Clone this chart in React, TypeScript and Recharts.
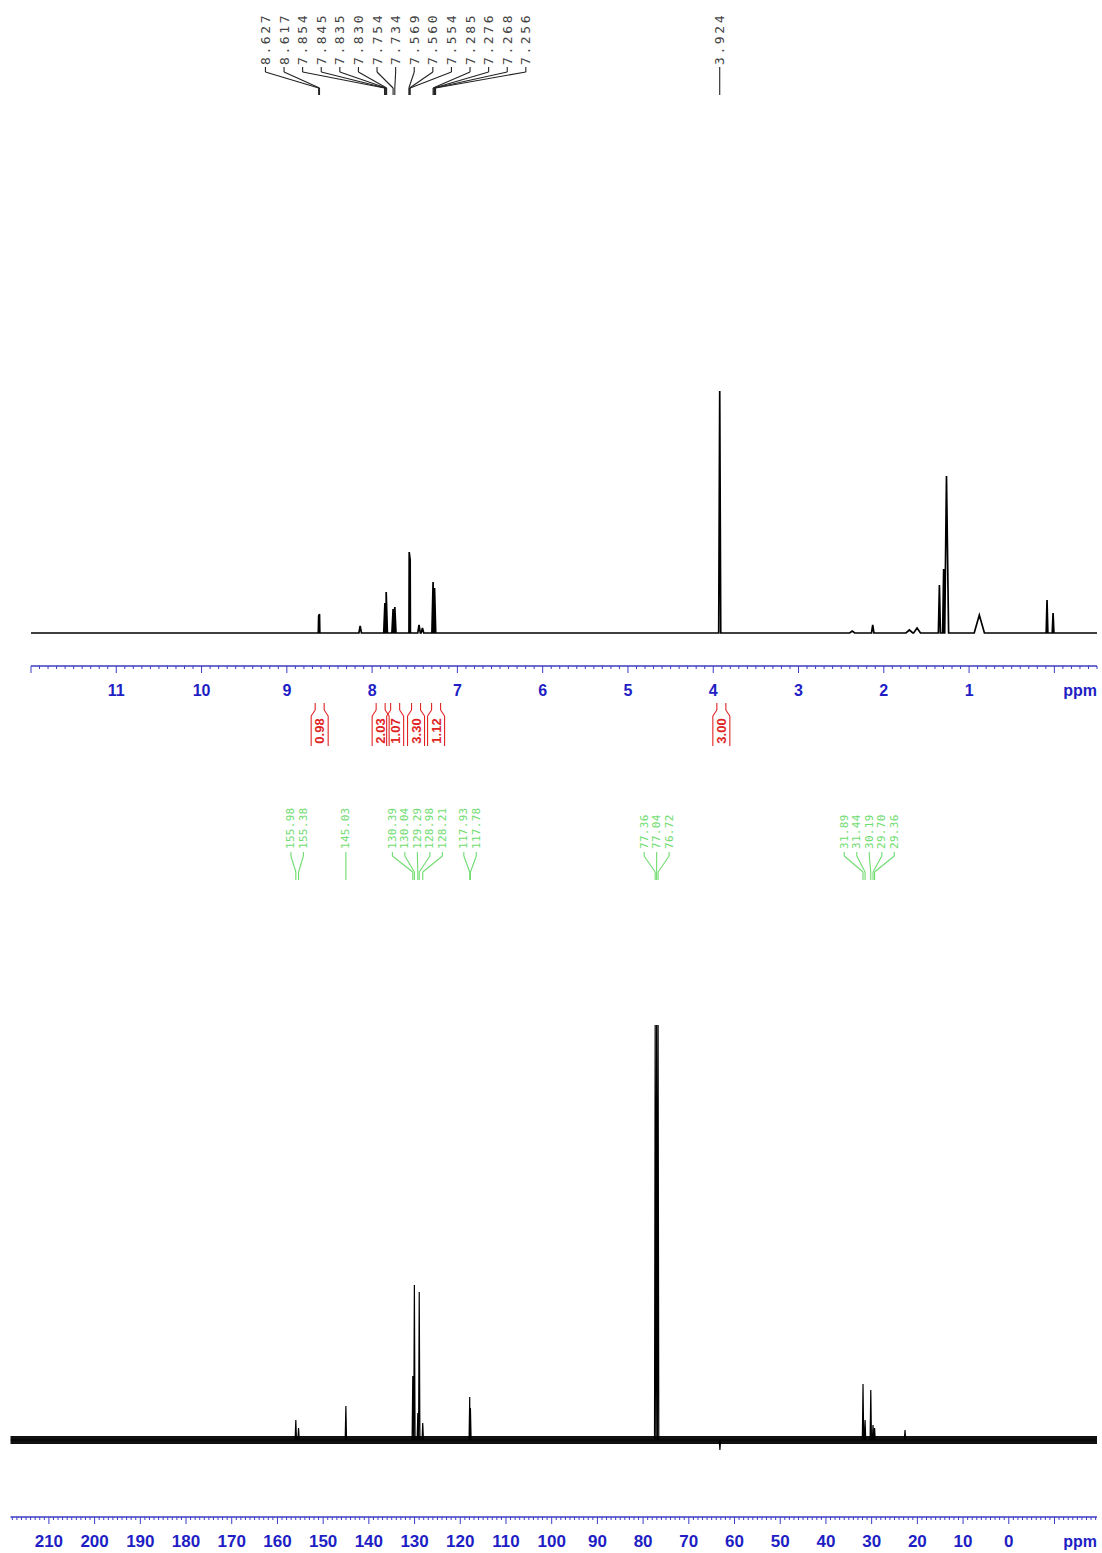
import React from "react";
import { LineChart, Line, XAxis, YAxis, ReferenceLine, ReferenceDot } from "recharts";

// ---------- 1H spectrum ----------
const H_PEAK_PPM = [8.627, 8.617, 8.14, 7.85, 7.835, 7.754, 7.734, 7.565, 7.554, 7.45, 7.41, 7.285, 7.268, 3.924, 2.37, 2.13, 1.7, 1.61, 1.348, 1.298, 1.265, 0.88, 0.086, 0.015];
const H_PEAK_HEIGHT = [17, 19, 7, 30, 41, 24, 26, 81, 73, 8, 5, 51, 45, 242, 2, 8, 3, 5, 48, 64, 157, 18, 33, 20];
const H_PEAK_WIDTH = [0.014, 0.014, 0.015, 0.014, 0.014, 0.014, 0.014, 0.014, 0.014, 0.015, 0.015, 0.014, 0.014, 0.012, 0.03, 0.014, 0.04, 0.04, 0.012, 0.012, 0.025, 0.06, 0.01, 0.01];
const H_LABELS = ["8.627", "8.617", "7.854", "7.845", "7.835", "7.830", "7.754", "7.734", "7.569", "7.560", "7.554", "7.285", "7.276", "7.268", "7.256", "3.924"];
const H_LABEL_GROUPS = [15, 1];
const H_INT_FROM = [8.68, 7.98, 7.8, 7.64, 7.32, 3.96];
const H_INT_TO = [8.55, 7.82, 7.66, 7.33, 7.18, 3.85];
const H_INT_VALUE = ["0.98", "2.03", "1.07", "3.30", "1.12", "3.00"];
const H_TICK_LABELS = [11, 10, 9, 8, 7, 6, 5, 4, 3, 2, 1];

// ---------- 13C spectrum ----------
const C_PEAK_PPM = [155.98, 155.38, 145.03, 130.39, 130.04, 129.29, 128.98, 128.21, 117.93, 117.78, 77.36, 77.04, 76.72, 63.2, 31.89, 31.44, 30.19, 29.7, 29.36, 22.7];
const C_PEAK_HEIGHT = [20, 12, 34, 64, 155, 27, 148, 17, 43, 32, 415, 415, 415, -10, 56, 20, 50, 15, 12, 10];
const C_LABELS = ["155.98", "155.38", "145.03", "130.39", "130.04", "129.29", "128.98", "128.21", "117.93", "117.78", "77.36", "77.04", "76.72", "31.89", "31.44", "30.19", "29.70", "29.36"];
const C_LABEL_GROUPS = [2, 1, 5, 2, 3, 5];
const C_TICK_LABELS = [210, 200, 190, 180, 170, 160, 150, 140, 130, 120, 110, 100, 90, 80, 70, 60, 50, 40, 30, 20, 10, 0];

// layout
const AXIS_BLUE = "#3b3bc4";
const LABEL_BLUE = "#1e1ec4";
const GREEN = "#6fdc6f";
const RED = "#e02424";
const MONO = "'DejaVu Sans Mono', 'Liberation Mono', monospace";
const SANS = "'Liberation Sans', Arial, sans-serif";

const H_X = [-0.5, 12];
const H_LEFT = 31;
const RIGHT_GAP = 5;
const H_PX = (1102 - RIGHT_GAP - H_LEFT) / (H_X[1] - H_X[0]);
const C_X = [-19.3, 218.4];
const C_LEFT = 10.5;
const C_PX = (1102 - RIGHT_GAP - C_LEFT) / (C_X[1] - C_X[0]);

const buildSpectrum = (ppm: number[], height: number[], width: number[], lo: number, hi: number) => {
  const pts = [{ x: hi, y: 0 }, { x: lo, y: 0 }];
  ppm.forEach((p, i) => {
    pts.push({ x: p + width[i], y: 0 }, { x: p, y: height[i] }, { x: p - width[i], y: 0 });
  });
  return pts.sort((a, b) => b.x - a.x);
};

const hData = buildSpectrum(H_PEAK_PPM, H_PEAK_HEIGHT, H_PEAK_WIDTH, H_X[0], H_X[1]);
const cData = buildSpectrum(C_PEAK_PPM, C_PEAK_HEIGHT, C_PEAK_PPM.map(() => 0.15), C_X[0], C_X[1]);

const labelLayout = (labels: string[], groups: number[], step: number) => {
  const out: { label: string; peak: number; at: number }[] = [];
  let i = 0;
  groups.forEach((n) => {
    const grp = labels.slice(i, i + n).map(Number);
    const mean = grp.reduce((s, v) => s + v, 0) / n;
    grp.forEach((p, k) => out.push({ label: labels[i + k], peak: p, at: mean + ((n - 1) / 2 - k) * step }));
    i += n;
  });
  return out;
};

const rotatedText = (label: string, style: any) => (p: any) => (
  <text transform={`translate(${p.cx},${p.cy}) rotate(-90)`} dominantBaseline="central" {...style}>
    {label}
  </text>
);

const axisTick = (labels: number[], majorStep: number, fontSize: number) => (p: any) => {
  const v = p.payload.value;
  const major = Math.abs(v / majorStep - Math.round(v / majorStep)) < 1e-6;
  const shown = major && labels.includes(Math.round(v));
  return (
    <g>
      <line x1={p.x} x2={p.x} y1={p.y} y2={p.y + (major ? 7 : 3)} stroke={AXIS_BLUE} strokeWidth={1} />
      {shown && (
        <text x={p.x} y={p.y + 30} textAnchor="middle" fill={LABEL_BLUE} fontSize={fontSize} fontWeight="bold" fontFamily={SANS}>
          {Math.round(v)}
        </text>
      )}
    </g>
  );
};

const ppmLabel = (p: any) => {
  const vb = p.viewBox || {};
  return (
    <text x={vb.x + vb.width} y={vb.y + 30} textAnchor="end" fill={LABEL_BLUE} fontSize={16} fontWeight="bold" fontFamily={SANS}>
      ppm
    </text>
  );
};

// minor ticks: 0.1 ppm for 1H, 1 ppm for 13C
const hTicks: number[] = [];
for (let k = 120; k >= -5; k--) hTicks.push(k / 10);
const cTicks: number[] = [];
for (let k = 218; k >= -19; k--) cTicks.push(k);

// peak-label connectors, values are px above the baseline
const peakLabels = (items: { label: string; peak: number; at: number }[], g: any, color: string, textStyle: any) =>
  items.flatMap((it, i) => [
    <ReferenceDot key={`t${i}`} x={it.at} y={g.text} ifOverflow="visible" shape={rotatedText(it.label, textStyle)} />,
    <ReferenceLine key={`a${i}`} segment={[{ x: it.at, y: g.top }, { x: it.at, y: g.bend }]} stroke={color} strokeWidth={1.1} ifOverflow="visible" />,
    <ReferenceLine key={`b${i}`} segment={[{ x: it.at, y: g.bend }, { x: it.peak, y: g.join }]} stroke={color} strokeWidth={1.1} ifOverflow="visible" />,
    <ReferenceLine key={`c${i}`} segment={[{ x: it.peak, y: g.join }, { x: it.peak, y: g.bottom }]} stroke={color} strokeWidth={1.1} ifOverflow="visible" />,
  ]);

const integrals = () =>
  H_INT_VALUE.flatMap((val, i) => {
    const c = (H_INT_FROM[i] + H_INT_TO[i]) / 2;
    const neck = 4.5 / H_PX;
    const body = 8.5 / H_PX;
    const lines = [-1, 1].flatMap((s) => [
      [c + s * neck, -70, c + s * neck, -77],
      [c + s * neck, -77, c + s * body, -83],
      [c + s * body, -83, c + s * body, -113],
    ]);
    return [
      ...lines.map((l, j) => (
        <ReferenceLine key={`i${i}-${j}`} segment={[{ x: l[0], y: l[1] }, { x: l[2], y: l[3] }]} stroke={RED} strokeWidth={1.1} ifOverflow="visible" />
      )),
      <ReferenceDot
        key={`iv${i}`}
        x={c}
        y={-98}
        ifOverflow="visible"
        shape={rotatedText(val, { textAnchor: "middle", fill: RED, fontSize: 13, fontWeight: "bold", fontFamily: SANS })}
      />,
    ];
  });

export default function App() {
  const hItems = labelLayout(H_LABELS, H_LABEL_GROUPS, 18.6 / H_PX);
  const cItems = labelLayout(C_LABELS, C_LABEL_GROUPS, 12.5 / C_PX);

  return (
    <div style={{ position: "absolute", left: 0, top: 0, width: 1102, height: 1553, background: "#fff" }}>
      {/* 1H */}
      <div style={{ position: "absolute", left: 0, top: 0 }}>
        <LineChart width={1102} height={760} data={hData} margin={{ top: 0, right: RIGHT_GAP, bottom: 0, left: H_LEFT }}>
          <XAxis
            dataKey="x"
            type="number"
            reversed
            domain={H_X}
            allowDataOverflow
            ticks={hTicks}
            interval={0}
            height={94}
            tickSize={0}
            tickMargin={0}
            tickLine={false}
            axisLine={{ stroke: AXIS_BLUE, strokeWidth: 1.5 }}
            tick={axisTick(H_TICK_LABELS, 1, 16)}
            label={ppmLabel}
          />
          <YAxis hide width={0} type="number" domain={[-33, 633]} allowDataOverflow />
          <Line type="linear" dataKey="y" stroke="#000" strokeWidth={1.7} dot={false} isAnimationActive={false} />
          {peakLabels(hItems, { text: 568, top: 566, bend: 561, join: 545, bottom: 538 }, "#222", {
            textAnchor: "start",
            fill: "#444",
            fontSize: 13,
            letterSpacing: 2.6,
            fontFamily: MONO,
          })}
          {integrals()}
        </LineChart>
      </div>

      {/* 13C */}
      <div style={{ position: "absolute", left: 0, top: 790 }}>
        <LineChart width={1102} height={763} data={cData} margin={{ top: 0, right: RIGHT_GAP, bottom: 0, left: C_LEFT }}>
          <XAxis
            dataKey="x"
            type="number"
            reversed
            domain={C_X}
            allowDataOverflow
            ticks={cTicks}
            interval={0}
            height={36}
            tickSize={0}
            tickMargin={0}
            tickLine={false}
            axisLine={{ stroke: AXIS_BLUE, strokeWidth: 1.5 }}
            tick={axisTick(C_TICK_LABELS, 10, 17)}
            label={ppmLabel}
          />
          <YAxis hide width={0} type="number" domain={[-77, 650]} allowDataOverflow />
          <ReferenceLine y={0} stroke="#111" strokeWidth={8} />
          <Line type="linear" dataKey="y" stroke="#000" strokeWidth={1.2} dot={false} isAnimationActive={false} />
          {peakLabels(cItems, { text: 591, top: 588, bend: 584, join: 568, bottom: 560 }, GREEN, {
            textAnchor: "start",
            fill: GREEN,
            fontSize: 11,
            letterSpacing: 0.3,
            fontFamily: MONO,
          })}
        </LineChart>
      </div>
    </div>
  );
}
